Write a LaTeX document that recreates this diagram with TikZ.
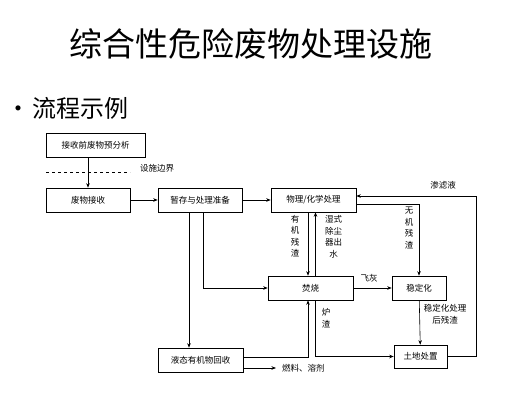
\documentclass[tikz,border=0pt]{standalone}
\usepackage{fontspec}
\newfontfamily\cjk{Noto Sans CJK SC}
\usetikzlibrary{arrows.meta}

\begin{document}
\begin{tikzpicture}[x=1pt,y=-1pt,font=\cjk\fontsize{8.5}{11.5}\selectfont,
  box/.style={draw,line width=0.6pt,minimum height=24pt,inner sep=0pt},
  flow/.style={line width=0.6pt,-{Stealth[length=4.5pt,width=3.5pt]}},
  lbl/.style={align=center,inner sep=0pt}]
\useasboundingbox (0,0) rectangle (511,404);
% heading
\node[inner sep=0pt,font=\cjk\fontsize{33}{33}\selectfont] (title) at (251,44) {综合性危险废物处理设施};
\node[inner sep=0pt,anchor=west,font=\cjk\fontsize{24}{24}\selectfont] (bullet) at (6,108) {•\hspace{2pt}流程示例};
% boxes
\node[box,minimum width=99pt] (pre) at (95.5,145) {接收前废物预分析};
\node[box,minimum width=84pt] (recv) at (88,200) {废物接收};
\node[box,minimum width=84pt] (store) at (200,200) {暂存与处理准备};
\node[box,minimum width=85pt] (phys) at (313.5,200) {物理/化学处理};
\node[box,minimum width=85pt] (burn) at (310.5,288) {焚烧};
\node[box,minimum width=54pt] (stab) at (419,288) {稳定化};
\node[box,minimum width=53pt,minimum height=23pt] (land) at (420.5,356.5) {土地处置};
\node[box,minimum width=85pt] (liq) at (200.5,360) {液态有机物回收};
% boundary
\coordinate (bl) at (46,172);
\coordinate (br) at (130,172);
\draw[dashed,line width=0.6pt] (bl) -- (br);
\node[lbl,anchor=west] (bound) at (140,168) {设施边界};
% connectors
\draw[flow] (pre.south -| recv) -- (recv.north);
\draw[flow] (recv) -- (store);
\draw[flow] (store) -- (phys);
\draw[flow] (phys.south -| 308,0) -- (burn.north -| 308,0);
\draw[flow] (burn.north -| 315.5,0) -- (phys.south -| 315.5,0);
\draw[flow] (store.south -| 189,0) -- (liq.north -| 189,0);
\draw[flow] (store.south -| 203,0) |- (burn.west);
\draw[flow] (liq.east |- 0,357) -| (burn.south -| 308,0);
\coordinate (fuel) at (276,368);
\draw[flow] (liq.east |- fuel) -- (fuel);
\draw[flow] (burn.south -| 315,0) |- (land.west);
\draw[flow] (burn) -- (stab);
\draw[flow] (phys.east |- 0,204) -| (stab.north);
\draw[flow] (stab) -- (land);
\coordinate (loop) at (476,356);
\draw[flow] (land.east |- loop) -- (loop) |- (phys.east |- 0,196);
% labels
\node[lbl,anchor=west] (fuellbl) at (282,368) {燃料、溶剂};
\node[lbl] (organic) at (295,236) {有\\机\\残\\渣};
\node[lbl] (water) at (333.5,237) {湿式\\除尘\\器出\\水};
\node[lbl] (inorg) at (409,228) {无\\机\\残\\渣};
\node[lbl] (ash) at (369,278) {飞灰};
\node[lbl] (slag) at (326,318) {炉\\渣};
\node[lbl] (resid) at (445,314) {稳定化处理\\后残渣};
\node[lbl] (leach) at (443,185) {渗滤液};
\end{tikzpicture}
\end{document}
